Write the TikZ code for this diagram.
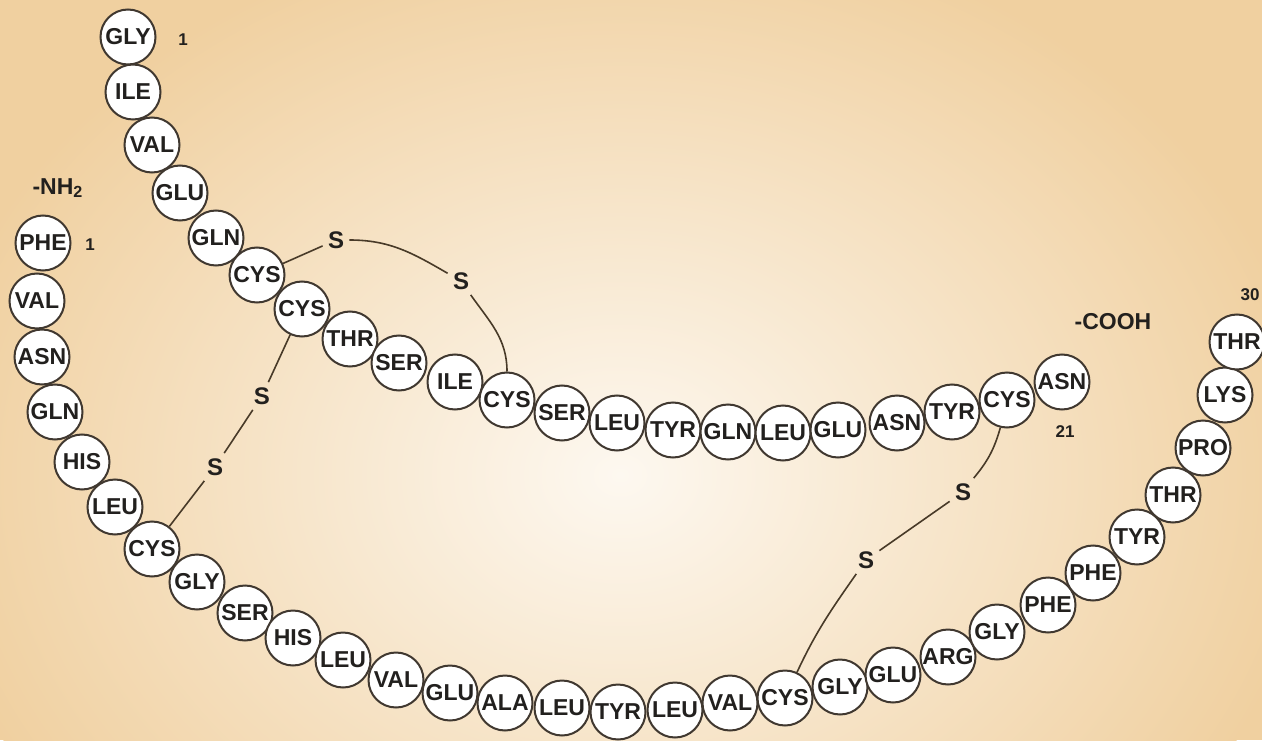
\documentclass[tikz,border=0pt]{standalone}
\usepackage{fontspec}
\setmainfont{Liberation Sans}
\usepackage{tikz}

\definecolor{bgout}{RGB}{240,208,160}
\definecolor{bgin}{RGB}{253,248,240}
\definecolor{rimcol}{RGB}{64,56,48}
\definecolor{txtcol}{RGB}{34,32,30}
\definecolor{bondcol}{RGB}{72,58,40}

\tikzset{
  res/.style={circle, draw=rimcol, fill=white, line width=1pt,
    minimum size=27.5pt, inner sep=0pt, text=txtcol,
    font=\bfseries\fontsize{11.5}{11.5}\selectfont},
  sulf/.style={inner sep=2.5pt, text=txtcol,
    font=\bfseries\fontsize{12}{12}\selectfont},
  tag/.style={inner sep=0pt, text=txtcol,
    font=\bfseries\fontsize{8.5}{8.5}\selectfont},
  endgrp/.style={inner sep=0pt, text=txtcol,
    font=\bfseries\fontsize{11.5}{11.5}\selectfont},
  bond/.style={draw=bondcol, line width=0.8pt}
}

\begin{document}
\begin{tikzpicture}[x=0.5pt, y=0.5pt]
    % Background
    \useasboundingbox (0,0) rectangle (1262,740);
    \clip (0,0) rectangle (1262,740);
    \fill[bgout] (0,0) rectangle (1262,740);
    \shade[inner color=bgin, outer color=bgout] (620,265) ellipse (700 and 560);
    % Chain A
    \node[res] (a1) at (128,703) {GLY};
    \node[res] (a2) at (133,648) {ILE};
    \node[res] (a3) at (152,595) {VAL};
    \node[res] (a4) at (180,547) {GLU};
    \node[res] (a5) at (216,502) {GLN};
    \node[res] (a6) at (257,465) {CYS};
    \node[res] (a7) at (302,431) {CYS};
    \node[res] (a8) at (350,401) {THR};
    \node[res] (a9) at (399,377) {SER};
    \node[res] (a10) at (455,358) {ILE};
    \node[res] (a11) at (507,340) {CYS};
    \node[res] (a12) at (562,327) {SER};
    \node[res] (a13) at (617,317) {LEU};
    \node[res] (a14) at (673,310) {TYR};
    \node[res] (a15) at (728,308) {GLN};
    \node[res] (a16) at (783,307) {LEU};
    \node[res] (a17) at (838,310) {GLU};
    \node[res] (a18) at (897,317) {ASN};
    \node[res] (a19) at (952,328) {TYR};
    \node[res] (a20) at (1007,340) {CYS};
    \node[res] (a21) at (1062,358) {ASN};
    % Chain B
    \node[res] (b1) at (43,497) {PHE};
    \node[res] (b2) at (37,439) {VAL};
    \node[res] (b3) at (42,383) {ASN};
    \node[res] (b4) at (55,328) {GLN};
    \node[res] (b5) at (82,278) {HIS};
    \node[res] (b6) at (115,233) {LEU};
    \node[res] (b7) at (152,191) {CYS};
    \node[res] (b8) at (197,158) {GLY};
    \node[res] (b9) at (245,127) {SER};
    \node[res] (b10) at (293,102) {HIS};
    \node[res] (b11) at (343,80) {LEU};
    \node[res] (b12) at (396,60) {VAL};
    \node[res] (b13) at (450,47) {GLU};
    \node[res] (b14) at (505,37) {ALA};
    \node[res] (b15) at (562,32) {LEU};
    \node[res] (b16) at (618,28) {TYR};
    \node[res] (b17) at (675,30) {LEU};
    \node[res] (b18) at (730,37) {VAL};
    \node[res] (b19) at (785,42) {CYS};
    \node[res] (b20) at (840,53) {GLY};
    \node[res] (b21) at (893,65) {GLU};
    \node[res] (b22) at (948,83) {ARG};
    \node[res] (b23) at (997,108) {GLY};
    \node[res] (b24) at (1048,135) {PHE};
    \node[res] (b25) at (1093,167) {PHE};
    \node[res] (b26) at (1137,203) {TYR};
    \node[res] (b27) at (1173,245) {THR};
    \node[res] (b28) at (1203,292) {PRO};
    \node[res] (b29) at (1225,345) {LYS};
    \node[res] (b30) at (1237,398) {THR};
    % Ends and numbers
    \node[tag] (numa1) at (183,700) {1};
    \node[tag] (numb1) at (90,495) {1};
    \node[tag] (numa21) at (1065,308) {21};
    \node[tag] (numb30) at (1250,445) {30};
    \node[endgrp] (nterm) at (58,552) {-NH\textsubscript{2}};
    \node[endgrp] (cterm) at (1113,418) {-COOH};
    % Disulfide bridges
    \node[sulf] (s1) at (336,500) {S};
    \node[sulf] (s2) at (461,459) {S};
    \node[sulf] (s3) at (262,344) {S};
    \node[sulf] (s4) at (215,273) {S};
    \node[sulf] (s5) at (963,248) {S};
    \node[sulf] (s6) at (866,180) {S};
    \draw[bond] (a6) -- (s1);
    \draw[bond] (s1) to[out=0, in=150] (s2);
    \draw[bond] (s2) to[out=-55, in=90] (a11);
    \draw[bond] (a7) -- (s3);
    \draw[bond] (s3) -- (s4);
    \draw[bond] (s4) -- (b7);
    \draw[bond] (a20) to[bend left=12] (s5);
    \draw[bond] (s5) -- (s6);
    \draw[bond] (s6) to[out=-125, in=65] (b19);
  \end{tikzpicture}
\end{document}
